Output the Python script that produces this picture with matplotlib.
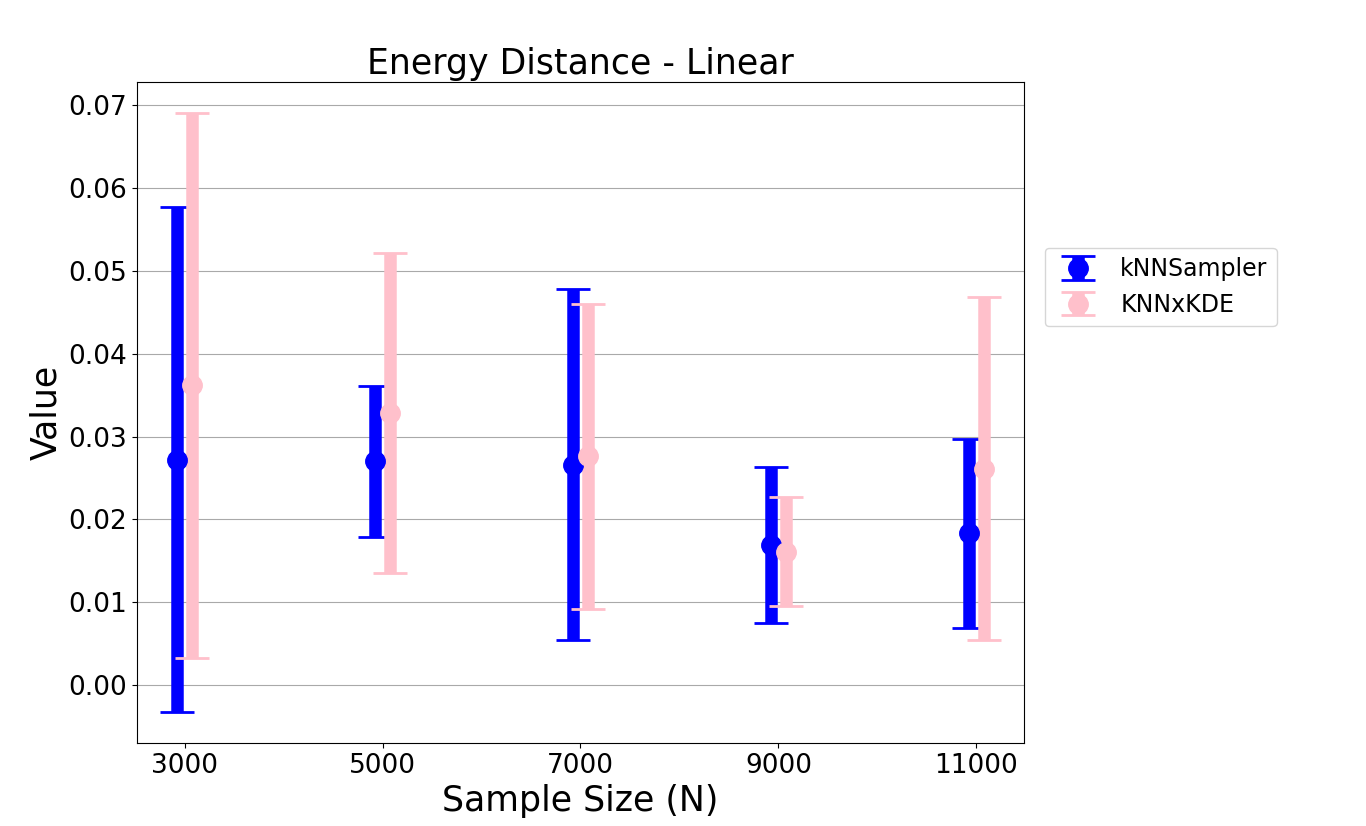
import matplotlib
matplotlib.use("Agg")
from matplotlib import pyplot as plt
import numpy as np

sizes = ["3000", "5000", "7000", "9000", "11000"]
knn_mean = [0.0272, 0.0270, 0.0266, 0.0169, 0.0183]
knn_err = [0.0305, 0.0091, 0.0212, 0.0094, 0.0114]
kde_mean = [0.0362, 0.0328, 0.0276, 0.0161, 0.0261]
kde_err = [0.0329, 0.0193, 0.0184, 0.0066, 0.0207]

fig = plt.figure(figsize=(13.66, 8.26), dpi=100)
ax = fig.add_axes([0.1003, 0.1005, 0.6493, 0.8002])

x = np.arange(len(sizes))
style = dict(fmt="o", markersize=14, elinewidth=9, capsize=12, capthick=2)
ax.errorbar(x - 0.04, knn_mean, yerr=knn_err, color="blue", label="kNNSampler", **style)
ax.errorbar(x + 0.04, kde_mean, yerr=kde_err, color="pink", label="KNNxKDE", **style)

ax.set_xticks(x, sizes)
ax.set_xlim(-0.24, 4.24)
ax.set_ylim(-0.007, 0.0728)
ax.set_yticks(np.arange(0, 0.071, 0.01))
ax.yaxis.set_major_formatter(matplotlib.ticker.FormatStrFormatter("%.2f"))
ax.grid(axis="y", color="darkgray")
ax.set_axisbelow(True)
ax.tick_params(labelsize=19)
ax.set_title("Energy Distance - Linear", fontsize=25)
ax.set_xlabel("Sample Size (N)", fontsize=25)
ax.set_ylabel("Value", fontsize=25)
ax.legend(loc="center left", bbox_to_anchor=(1.01, 0.69), fontsize=17)

fig.savefig("out.png", dpi=100)
